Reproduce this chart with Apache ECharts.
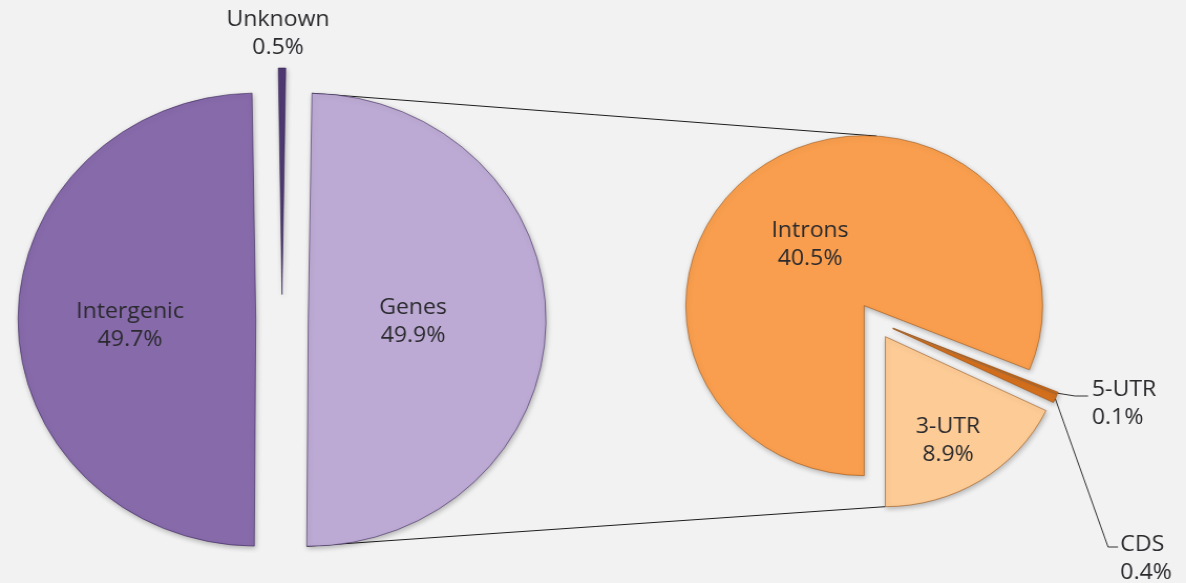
<!DOCTYPE html>
<html>
<head>
<meta charset="utf-8">
<script src="https://cdn.jsdelivr.net/npm/echarts@6/dist/echarts.min.js"></script>
<style>
  html, body { margin: 0; padding: 0; background: #f2f2f2; overflow: hidden; }
  /* the source picture is a little wider than tall, so the pies are ellipses */
  #chart { width: 1130px; height: 583px; transform: scaleX(1.0496); transform-origin: 0 0; }
</style>
</head>
<body>
<div id="chart"></div>
<script>
// whole genome (left pie)
const genomeNames = ['Unknown', 'Genes', 'Intergenic'];
const genomeValues = [0.5, 49.9, 49.7];
// breakdown of the Genes slice (right pie)
const geneNames = ['Introns', '5-UTR', 'CDS', '3-UTR'];
const geneValues = [40.5, 0.1, 0.4, 8.9];

const genomeColors = ['#4f3b73', '#bcaad4', '#876aaa'];
const geneColors = ['#f99e4e', '#d5701d', '#d5701d', '#fdcb95'];

// layout, in page pixels
const K = 1186 / 1130;
const sx = x => x / K;
const leftPie = { cx: sx(282), cy: 319.5, r: 226.5, gap: 25 };
const rightPie = { cx: sx(875), cy: 321, r: 170, gap: 18.5, start: 270 };
const labelAt = {
  Unknown: [278, 34], Intergenic: [130, 326], Genes: [413, 322],
  Introns: [810, 245], '3-UTR': [948, 441], '5-UTR': [1124, 404], CDS: [1146, 559]
};
const leaderBends = {
  '5-UTR': [[1075, 396], [1088, 396]],
  CDS: [[1108, 547], [1118, 547]]
};

const sum = a => a.reduce((s, v) => s + v, 0);
const rad = d => d * Math.PI / 180;
const spans = vals => vals.map(v => v / sum(vals) * 360);
const midAngles = (vals, start) => {
  let a = start;
  return spans(vals).map(s => { const m = a - s / 2; a -= s; return m; });
};

const leftStart = 90 + genomeValues[0] / sum(genomeValues) * 180;
const leftMids = midAngles(genomeValues, leftStart);
const rightMids = midAngles(geneValues, rightPie.start);
// how far a selected (exploded) slice moves
const shift = (pie, mid) => [pie.gap * Math.cos(rad(mid)), -pie.gap * Math.sin(rad(mid))];
const onArc = (pie, mid, ang) => {
  const d = shift(pie, mid);
  return [pie.cx + d[0] + pie.r * Math.cos(rad(ang)), pie.cy + d[1] - pie.r * Math.sin(rad(ang))];
};

// connector lines from the Genes slice to the second pie
const leftSpan = spans(genomeValues);
const genesA1 = leftStart - leftSpan[0];
const genesA2 = genesA1 - leftSpan[1];
const genesTop = onArc(leftPie, leftMids[1], genesA1);
const genesBottom = onArc(leftPie, leftMids[1], genesA2);
const rightTop = onArc(rightPie, rightMids[0], 86);
const rightBottom = onArc(rightPie, rightMids[3], -90);

const labelFont = {
  fontFamily: 'Open Sans', fontSize: 22, lineHeight: 28, color: '#2a2a2e'
};

// label rects and guide points come in before the explode shift is added
const makeLayout = (names, pie, mids) => p => {
  const name = names[p.dataIndex];
  const t = labelAt[name];
  if (!t) return {};
  const d = shift(pie, mids[p.dataIndex]);
  const r = p.labelRect;
  const res = {
    dx: sx(t[0]) - d[0] - (r.x + r.width / 2),
    dy: t[1] - d[1] - (r.y + r.height / 2)
  };
  const bends = leaderBends[name];
  if (bends && p.labelLinePoints) {
    res.labelLinePoints = [p.labelLinePoints[0]].concat(
      bends.map(b => [sx(b[0]) - d[0], b[1] - d[1]])
    );
  }
  return res;
};

const sliceStyle = (color, border) => ({
  color: color,
  borderColor: border,
  borderWidth: 1,
  shadowBlur: 5,
  shadowOffsetX: 1,
  shadowOffsetY: 2,
  shadowColor: 'rgba(0,0,0,0.25)'
});

const chart = echarts.init(document.getElementById('chart'));
chart.setOption({
  backgroundColor: '#f2f2f2',
  animation: false,
  graphic: [
    {
      type: 'polyline', z: 0,
      shape: { points: [genesTop, rightTop] },
      style: { stroke: '#1e1e1e', lineWidth: 1, fill: null }
    },
    {
      type: 'polyline', z: 0,
      shape: { points: [genesBottom, rightBottom] },
      style: { stroke: '#1e1e1e', lineWidth: 1, fill: null }
    }
  ],
  series: [
    {
      type: 'pie',
      center: [leftPie.cx, leftPie.cy],
      radius: [0, leftPie.r],
      startAngle: leftStart,
      clockwise: true,
      selectedMode: 'multiple',
      selectedOffset: leftPie.gap,
      avoidLabelOverlap: false,
      emphasis: { disabled: true },
      label: Object.assign({ show: true, position: 'inside', formatter: '{b}\n{c}%' }, labelFont),
      labelLine: { show: false },
      labelLayout: makeLayout(genomeNames, leftPie, leftMids),
      data: genomeNames.map((name, i) => ({
        name: name,
        value: genomeValues[i],
        selected: true,
        itemStyle: sliceStyle(genomeColors[i], 'rgba(50,30,80,0.55)')
      }))
    },
    {
      type: 'pie',
      center: [rightPie.cx, rightPie.cy],
      radius: [0, rightPie.r],
      startAngle: rightPie.start,
      clockwise: true,
      selectedMode: 'multiple',
      selectedOffset: rightPie.gap,
      avoidLabelOverlap: false,
      emphasis: { disabled: true },
      label: Object.assign({ show: true, position: 'inside', formatter: '{b}\n{c}%' }, labelFont),
      labelLine: { show: false },
      labelLayout: makeLayout(geneNames, rightPie, rightMids),
      data: geneNames.map((name, i) => {
        const outside = !!leaderBends[name];
        return {
          name: name,
          value: geneValues[i],
          selected: true,
          itemStyle: sliceStyle(geneColors[i], 'rgba(150,75,10,0.55)'),
          label: { position: outside ? 'outside' : 'inside' },
          labelLine: outside
            ? { show: true, length: 8, length2: 12, lineStyle: { color: '#333', width: 1 } }
            : { show: false }
        };
      })
    }
  ]
});
</script>
</body>
</html>
